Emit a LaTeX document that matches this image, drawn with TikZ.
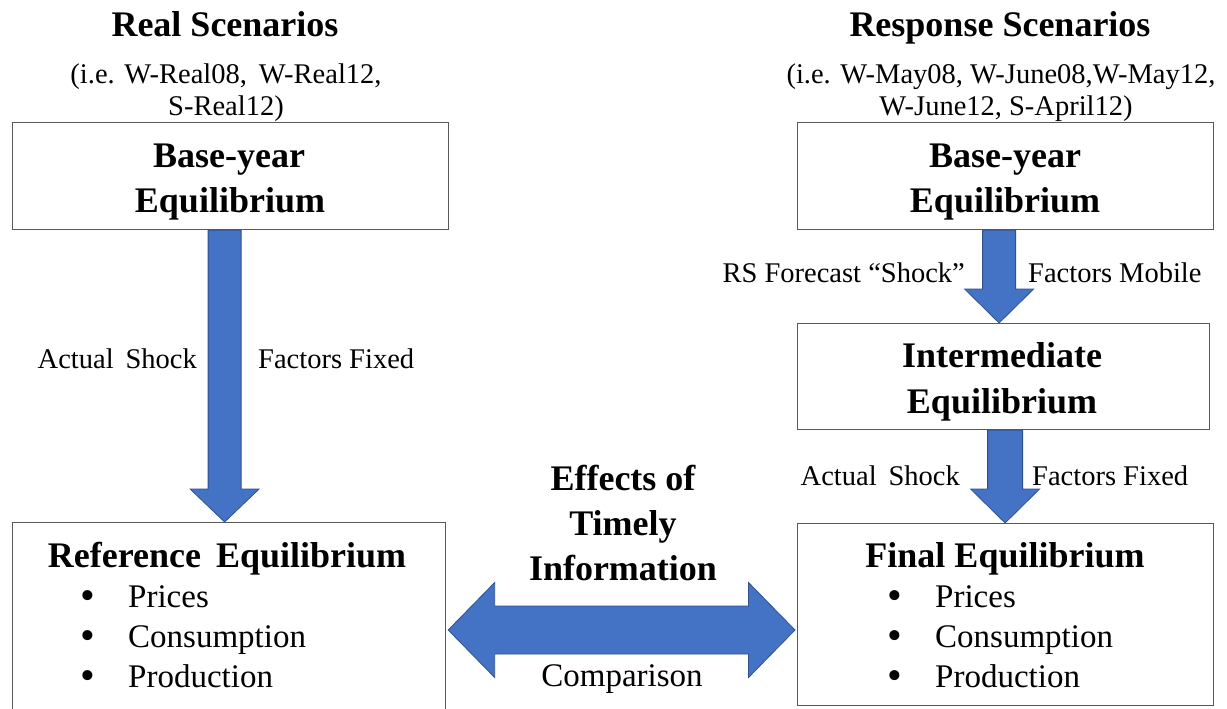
\documentclass[tikz,border=0pt]{standalone}
\usepackage{fontspec}
\setmainfont{Liberation Serif}
\usetikzlibrary{calc}
\definecolor{arrowblue}{HTML}{4472C4}
\definecolor{arrowedge}{HTML}{2F528F}
\definecolor{boxedge}{HTML}{595959}

% downward block arrow: start, end, shaft half-width, head half-width, head length
\newcommand\blockdown[5]{%
  \draw[blk] let \p1=(#1), \p2=(#2) in
    (\x1-#3pt,\y1) -- (\x1+#3pt,\y1) -- (\x1+#3pt,\y2+#5pt) -- (\x1+#4pt,\y2+#5pt)
    -- (\x1,\y2) -- (\x1-#4pt,\y2+#5pt) -- (\x1-#3pt,\y2+#5pt) -- cycle;}
% horizontal two-headed block arrow: left tip, right tip, shaft half, head half, head length
\newcommand\blockboth[5]{%
  \draw[blk] let \p1=(#1), \p2=(#2) in
    (\x1,\y1) -- (\x1+#5pt,\y1+#4pt) -- (\x1+#5pt,\y1+#3pt) -- (\x2-#5pt,\y1+#3pt)
    -- (\x2-#5pt,\y1+#4pt) -- (\x2,\y1) -- (\x2-#5pt,\y1-#4pt) -- (\x2-#5pt,\y1-#3pt)
    -- (\x1+#5pt,\y1-#3pt) -- (\x1+#5pt,\y1-#4pt) -- cycle;}

\begin{document}
\begin{tikzpicture}[x=1pt,y=-1pt,
  box/.style={draw=boxedge, line width=1.2pt, fill=white, rectangle, inner sep=0pt, anchor=north west},
  head/.style={font=\fontsize{36}{43}\selectfont\bfseries, anchor=base, inner sep=0pt},
  sub/.style={font=\fontsize{28.5}{34}\selectfont, anchor=base, inner sep=0pt},
  lab/.style={font=\fontsize{28.5}{34}\selectfont, inner sep=0pt},
  item/.style={font=\fontsize{33}{38}\selectfont, anchor=base west, inner sep=0pt},
  bul/.style={font=\fontsize{42}{48}\selectfont, anchor=base, inner sep=0pt},
  blk/.style={fill=arrowblue, draw=arrowedge, line width=0.8pt, line join=miter}
]
\useasboundingbox (0,0) rectangle (1227,709);
\fill[white] (0,0) rectangle (1227,709);

% boxes
\node[box, minimum width=436, minimum height=107] (lbase) at (12,122) {};
\node[box, minimum width=416, minimum height=107] (rbase) at (797,122) {};
\node[box, minimum width=412, minimum height=106] (inter) at (797,323) {};
\node[box, minimum width=433, minimum height=200] (ref) at (12,522) {};
\node[box, minimum width=416, minimum height=182] (fin) at (797,523) {};

% block arrows
\blockdown{$(lbase.south)+(-6,0)$}{ref.north}{16.5}{34.5}{33}
\blockdown{$(rbase.south)+(-6.5,0)$}{inter.north}{16.5}{34.5}{34}
\blockdown{$(inter.south)+(1.5,0)$}{fin.north}{17.5}{34.5}{34}
\coordinate (cmpy) at (623,630);
\coordinate (cmpL) at ($(ref.east |- cmpy)+(2,0)$);
\coordinate (cmpR) at ($(fin.west |- cmpy)+(-2,0)$);
\blockboth{cmpL}{cmpR}{24}{47.5}{46.5}

% column headings
\node[head] (ttlL) at (225,37) {Real Scenarios};
\node[sub] (subL1) at (226,84) {(i.e. W-Real08,\, W-Real12,};
\node[sub] (subL2) at (226,115) {S-Real12)};
\node[head] (ttlR) at (1000,37) {Response Scenarios};
\node[sub] (subR1) at (1001,84) {(i.e. W-May08, W-June08,W-May12,};
\node[sub] (subR2) at (1006,116) {W-June12, S-April12)};

% box texts
\node[head] (lbase1) at (229,167) {Base-year};
\node[head] (lbase2) at (230,212) {Equilibrium};
\node[head] (rbase1) at (1005,167) {Base-year};
\node[head] (rbase2) at (1005,212) {Equilibrium};
\node[head] (inter1) at (1002,367) {Intermediate};
\node[head] (inter2) at (1002,413) {Equilibrium};
\node[head] (ref1) at (227,567) {Reference\, Equilibrium};
\node[head] (fin1) at (1005,567) {Final Equilibrium};

% bullet lists
\node[bul] (rb1) at (88,609) {\textbullet};
\node[bul] (rb2) at (88,649) {\textbullet};
\node[bul] (rb3) at (88,689) {\textbullet};
\node[item] (ri1) at (128,607) {Prices};
\node[item] (ri2) at (128,647) {Consumption};
\node[item] (ri3) at (128,687) {Production};
\node[bul] (fb1) at (895,609) {\textbullet};
\node[bul] (fb2) at (895,649) {\textbullet};
\node[bul] (fb3) at (895,689) {\textbullet};
\node[item] (fi1) at (935,607) {Prices};
\node[item] (fi2) at (935,647) {Consumption};
\node[item] (fi3) at (935,687) {Production};

% comparison texts
\node[head] (eff1) at (623,490) {Effects of};
\node[head] (eff2) at (623,535) {Timely};
\node[head] (eff3) at (623,580) {Information};
\node[item, anchor=base, font=\fontsize{33}{38}\selectfont] (cmp) at (622,686) {Comparison};

% arrow labels
\node[lab, anchor=base east] (la1) at (197,368) {Actual\, Shock};
\node[lab, anchor=base west] (la2) at (258,368) {Factors Fixed};
\node[lab, anchor=base east] (ra1) at (965,282) {RS Forecast “Shock”};
\node[lab, anchor=base west] (ra2) at (1028,282) {Factors Mobile};
\node[lab, anchor=base east] (ra3) at (960,485) {Actual\, Shock};
\node[lab, anchor=base west] (ra4) at (1032,485) {Factors Fixed};
\end{tikzpicture}
\end{document}
